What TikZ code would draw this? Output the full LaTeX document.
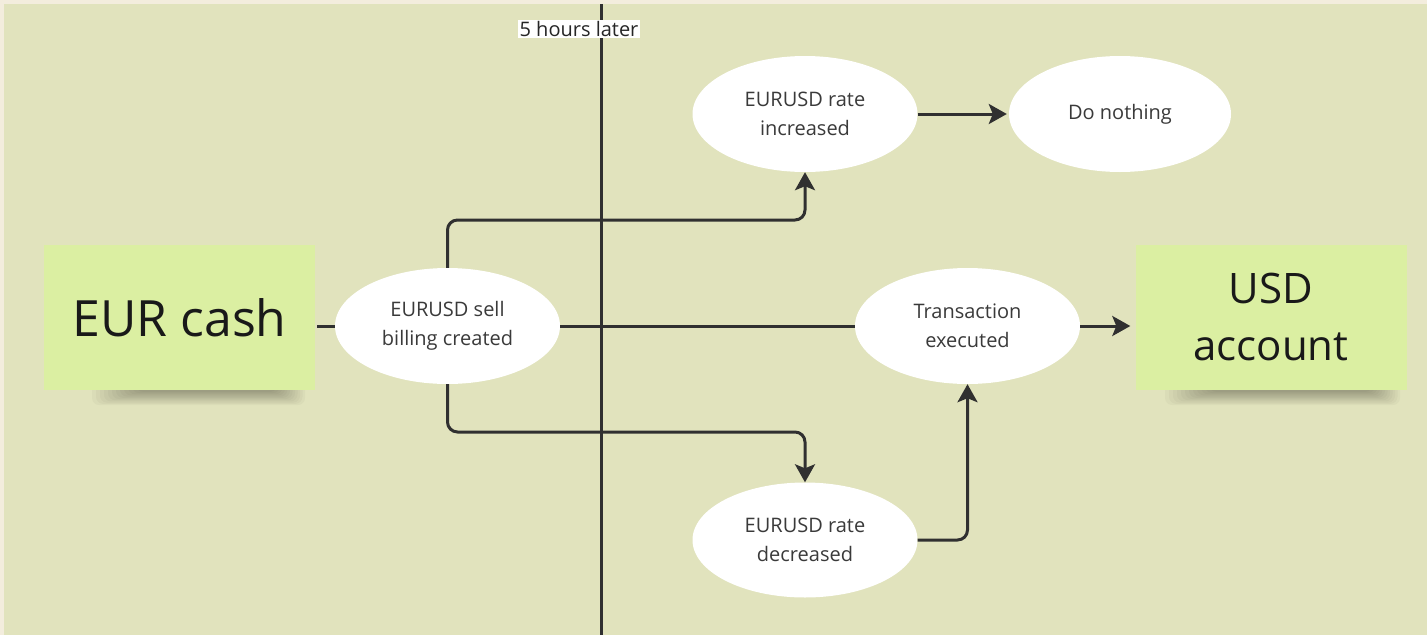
\documentclass[tikz,border=0pt]{standalone}
\usepackage{fontspec}
\setmainfont{Open Sans}
\usetikzlibrary{arrows.meta,shapes.geometric,calc}
\definecolor{bg}{HTML}{E1E3BD}
\definecolor{frame}{HTML}{F3EDDD}
\definecolor{sticky}{HTML}{DBEFA2}
\definecolor{ink}{HTML}{303030}
\definecolor{txt}{HTML}{3A3A3A}
\begin{document}
\begin{tikzpicture}[x=1pt,y=-1pt,
  oval/.style={ellipse,fill=white,minimum width=225pt,minimum height=116pt,inner sep=0pt,align=center,font=\fontsize{20}{29}\selectfont,text=txt},
  note/.style={fill=sticky,minimum width=271pt,minimum height=145pt,inner sep=0pt,align=center,text=black!90},
  conn/.style={draw=ink,line width=3pt,rounded corners=10pt},
  arr/.style={conn,-{Stealth[length=18pt,width=20pt,inset=4pt]}},
  tag/.style={fill=white,inner sep=1.5pt,font=\fontsize{20}{24}\selectfont,text=black!85},
]
\useasboundingbox (0,0) rectangle (1427,635);
\fill[bg] (0,0) rectangle (1427,635);
\fill[frame] (0,0) rectangle (1427,4);
\fill[frame] (0,0) rectangle (4,635);
% soft shadows of sticky notes
\foreach \i in {0,...,11}{
  \fill[black,opacity=0.028,rounded corners=7pt] (92+4*\i,375) rectangle (305-2.5*\i,405-1.2*\i);
  \fill[black,opacity=0.028,rounded corners=7pt] (1165+4*\i,375) rectangle (1400-2.5*\i,405-1.2*\i);
}
% time line
\coordinate (ttop) at (601,4);
\coordinate (tbot) at (601,635);
\draw[ink,line width=3pt] (ttop) -- (tbot);
\node[tag] (later) at (579,29) {5 hours later};
% nodes
\node[note,font=\fontsize{50}{60}\selectfont] (eur) at (179.5,317.5) {EUR cash};
\node[note,font=\fontsize{42}{57}\selectfont] (usd) at (1271,317) {USD\\account};
\node[oval] (sell) at (447.5,326) {EURUSD sell\\billing created};
\node[oval] (tx) at (967.5,326) {Transaction\\executed};
\node[oval] (inc) at (805,114) {EURUSD rate\\increased};
\node[oval,minimum width=222pt] (do) at (1120,114) {Do nothing};
\node[oval,minimum height=115pt] (dec) at (805,540) {EURUSD rate\\decreased};
% connectors
\draw[conn] (eur.east |- sell.west) ++(2,0) -- (sell.west);
\draw[conn] (sell.east) -- (tx.west);
\draw[arr,shorten >=5pt] (tx.east) -- (usd.west |- tx.east);
\draw[arr] (sell.north) -- (sell.north |- 0,220) -| (inc.south);
\draw[arr] (sell.south) -- (sell.south |- 0,432) -| (dec.north);
\draw[arr,shorten >=2pt] (inc.east) -- (do.west);
\draw[arr] (dec.east) -| (tx.south);
\end{tikzpicture}
\end{document}
